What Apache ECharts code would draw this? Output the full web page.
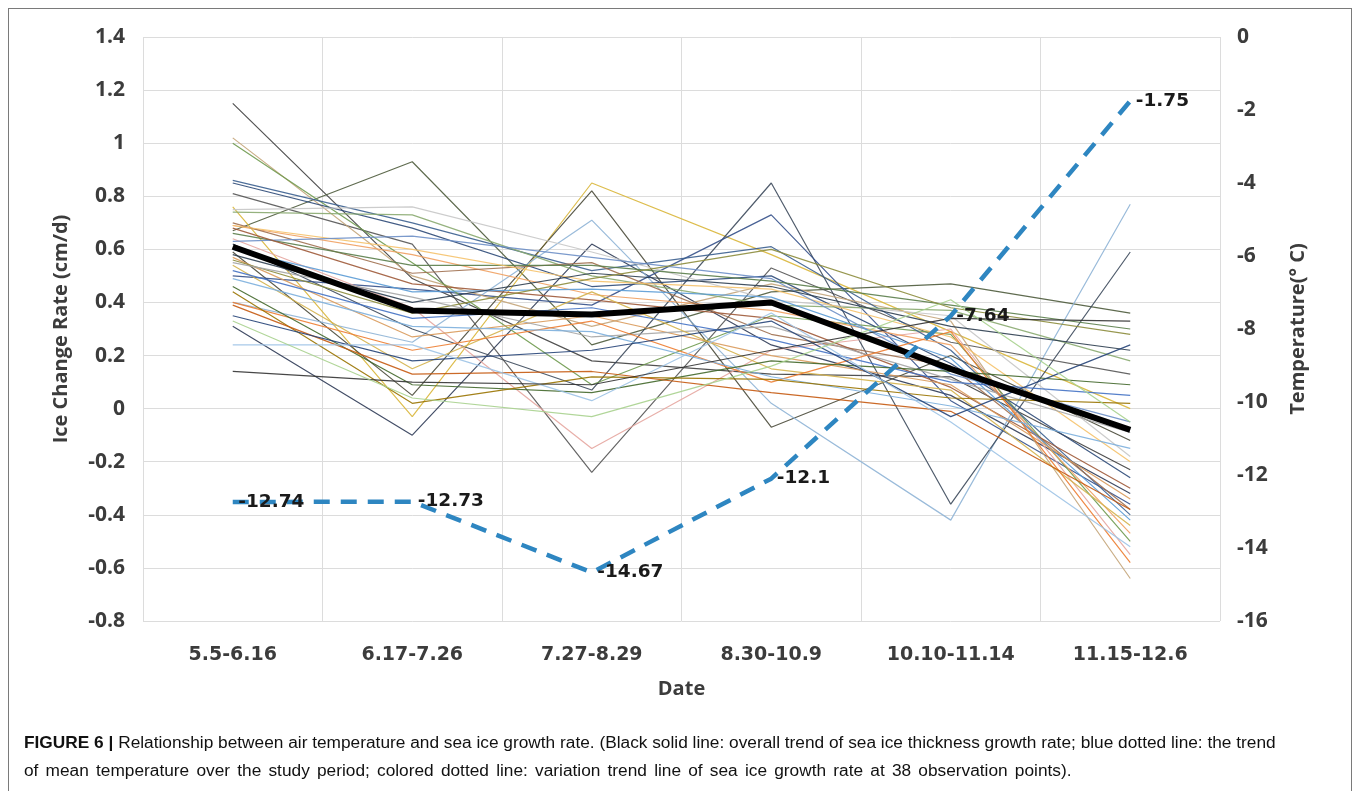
<!DOCTYPE html>
<html>
<head>
<meta charset="utf-8">
<script src="https://cdn.jsdelivr.net/npm/echarts@6/dist/echarts.min.js"></script>
<style>
  html, body { margin: 0; padding: 0; background: #ffffff; }
  #wrap { position: relative; width: 1354px; height: 791px; overflow: hidden; }
  #frame { position: absolute; left: 8px; top: 8px; width: 1342px; height: 800px; border: 1.5px solid #7a7a7a; }
  #chart { position: absolute; left: 0; top: 0; width: 1354px; height: 791px; }
  #caption { position: absolute; left: 24px; top: 728px; width: 1300px;
    font-family: "Liberation Sans", Arial, sans-serif; font-size: 17.3px; line-height: 28px;
    color: #111; white-space: nowrap; }
  #caption b { font-weight: bold; }
  #caption .last { word-spacing: 2.4px; }
</style>
</head>
<body>
<div id="wrap">
  <div id="frame"></div>
  <div id="chart"></div>
  <div id="caption">
    <div><b>FIGURE 6 |</b> Relationship between air temperature and sea ice growth rate. (Black solid line: overall trend of sea ice thickness growth rate; blue dotted line: the trend</div>
    <div class="last">of mean temperature over the study period; colored dotted line: variation trend line of sea ice growth rate at 38 observation points).</div>
  </div>
</div>
<script>
// Observation periods
const categories = ['5.5-6.16', '6.17-7.26', '7.27-8.29', '8.30-10.9', '10.10-11.14', '11.15-12.6'];

// Mean air temperature per period (°C)
const temperature = [-12.74, -12.73, -14.67, -12.1, -7.64, -1.75];

// Overall trend of sea ice growth rate (cm/d)
const overallTrend = [0.61, 0.37, 0.355, 0.40, 0.15, -0.08];

// Growth rate at the 38 observation points (cm/d)
const p01 = [1.15, 0.49, 0.18, 0.13, 0.12, -0.23];
const p02 = [0.67, 0.93, 0.24, 0.44, 0.47, 0.36];
const p03 = [0.31, -0.10, 0.62, 0.24, 0.05, -0.32];
const p04 = [0.76, -0.03, 0.85, 0.58, 0.29, 0.00];
const p05 = [0.59, 0.05, 0.82, -0.07, 0.20, -0.12];
const p06 = [0.40, 0.25, 0.71, 0.02, -0.42, 0.77];
const p07 = [0.62, 0.30, 0.07, 0.85, -0.36, 0.59];
const p08 = [0.50, 0.45, 0.39, 0.73, 0.03, -0.36];
const p09 = [0.81, 0.62, -0.24, 0.53, 0.25, 0.13];
const p10 = [0.64, 0.38, -0.15, 0.22, 0.30, -0.55];
const p11 = [1.02, 0.50, 0.31, 0.47, 0.33, -0.64];
const p12 = [1.00, 0.55, 0.09, 0.35, 0.28, -0.50];
const p13 = [0.86, 0.70, 0.52, 0.61, 0.22, -0.40];
const p14 = [0.85, 0.68, 0.46, 0.50, 0.17, -0.26];
const p15 = [0.75, 0.76, 0.59, 0.41, 0.35, -0.18];
const p16 = [0.74, 0.73, 0.50, 0.39, 0.37, 0.18];
const p17 = [0.69, 0.58, 0.43, 0.37, 0.24, -0.47];
const p18 = [0.70, 0.51, 0.55, 0.28, 0.16, -0.38];
const p19 = [0.66, 0.54, 0.54, 0.48, 0.39, 0.30];
const p20 = [0.69, 0.60, 0.48, 0.45, 0.27, -0.20];
const p21 = [0.63, 0.65, 0.57, 0.49, 0.13, -0.05];
const p22 = [0.68, 0.47, 0.41, 0.34, 0.08, -0.30];
const p23 = [0.60, 0.44, 0.45, 0.42, 0.19, -0.42];
const p24 = [0.58, 0.40, 0.51, 0.46, 0.31, 0.22];
const p25 = [0.57, 0.27, 0.35, 0.20, 0.09, -0.34];
const p26 = [0.56, 0.36, 0.49, 0.60, 0.38, 0.28];
const p27 = [0.55, 0.42, 0.27, 0.31, 0.11, -0.09];
const p28 = [0.54, 0.15, 0.44, 0.15, 0.07, -0.44];
const p29 = [0.52, 0.34, 0.38, 0.26, 0.10, 0.05];
const p30 = [0.40, 0.22, 0.33, 0.10, 0.29, -0.58];
const p31 = [0.49, 0.31, 0.29, 0.12, 0.01, -0.15];
const p32 = [0.46, 0.09, 0.06, 0.18, 0.14, 0.09];
const p33 = [0.44, 0.02, 0.12, 0.11, 0.04, 0.02];
const p34 = [0.39, 0.13, 0.14, 0.06, -0.01, -0.38];
const p35 = [0.35, 0.18, 0.22, 0.33, -0.03, 0.24];
const p36 = [0.24, 0.24, 0.03, 0.36, -0.05, -0.52];
const p37 = [0.14, 0.10, 0.09, 0.22, 0.34, 0.33];
const p38 = [0.33, 0.04, -0.03, 0.16, 0.41, -0.05];

const points = [p01, p02, p03, p04, p05, p06, p07, p08, p09, p10, p11, p12, p13, p14, p15, p16, p17, p18, p19,
                p20, p21, p22, p23, p24, p25, p26, p27, p28, p29, p30, p31, p32, p33, p34, p35, p36, p37, p38];

const pointColors = [
  '#3f3f3f', '#4e5b3c', '#2f3b56', '#d9b63a', '#4a4a3a', '#8fb4d6', '#3d4a5c', '#34508a', '#555555', '#e6a6a0',
  '#c4a57a', '#6f9a4f', '#3b5f8f', '#2e4a78', '#c6c6c6', '#8aaa70', '#f0a060', '#a07050', '#5a7d4a', '#f5c26b',
  '#6d8fc7', '#9e5a3a', '#5b9bd5', '#2d3e50', '#d99a5b', '#8c8c3c', '#a5a5a5', '#d4b24c', '#4472c4', '#ed7d31',
  '#7cafdd', '#43682b', '#997300', '#c55a11', '#264478', '#9dc3e6', '#333333', '#a9d18e'
];

const textColor = '#3c3c3c';
const font = '"Open Sans", "DejaVu Sans", sans-serif';
const wideFont = '"DejaVu Sans", sans-serif';

const series = points.map((vals, i) => ({
  name: 'P' + (i + 1),
  type: 'line',
  data: vals,
  yAxisIndex: 0,
  symbol: 'none',
  silent: true,
  lineStyle: { width: 1.2, color: pointColors[i], opacity: 0.9 },
  z: 2
}));

series.push({
  name: 'Overall trend',
  type: 'line',
  data: overallTrend,
  yAxisIndex: 0,
  symbol: 'none',
  lineStyle: { width: 6, color: '#000000' },
  z: 5
});

// Temperature: dashed line with value labels (an invisible marker carries each label)
series.push({
  name: 'Temperature',
  type: 'line',
  data: temperature,
  yAxisIndex: 1,
  symbol: 'circle',
  symbolSize: 1,
  showSymbol: true,
  itemStyle: { color: 'rgba(0,0,0,0)', borderWidth: 0 },
  lineStyle: { width: 4.5, color: '#2e86c1', type: [16, 11] },
  label: {
    show: true, position: 'right', distance: 5,
    color: '#1a1a1a', fontFamily: wideFont, fontWeight: 'bold', fontSize: 18.5
  },
  labelLayout: { hideOverlap: false },
  z: 6
});

const chart = echarts.init(document.getElementById('chart'), null, { renderer: 'canvas' });
chart.setOption({
  animation: false,
  backgroundColor: 'transparent',
  grid: { left: 143, right: 134, top: 37, bottom: 170 },
  xAxis: {
    type: 'category',
    data: categories,
    boundaryGap: true,
    name: 'Date',
    nameLocation: 'middle',
    nameGap: 58,
    nameTextStyle: { color: textColor, fontFamily: font, fontWeight: 'bold', fontSize: 20 },
    axisLine: { show: false },
    axisTick: { show: false },
    axisLabel: { color: textColor, fontFamily: wideFont, fontWeight: 'bold', fontSize: 19, margin: 25 },
    splitLine: { show: true, interval: 0, lineStyle: { color: '#dcdcdc', width: 1 } }
  },
  yAxis: [
    {
      type: 'value',
      min: -0.8, max: 1.4, interval: 0.2,
      name: 'Ice Change Rate (cm/d)',
      nameLocation: 'middle',
      nameGap: 72,
      nameTextStyle: { color: textColor, fontFamily: font, fontWeight: 'bold', fontSize: 20 },
      axisLine: { show: false },
      axisTick: { show: false },
      axisLabel: { color: textColor, fontFamily: font, fontWeight: 'bold', fontSize: 21, margin: 18 },
      splitLine: { show: true, lineStyle: { color: '#dcdcdc', width: 1 } }
    },
    {
      type: 'value',
      position: 'right',
      min: -16, max: 0, interval: 2,
      name: 'Temperature(° C)',
      nameLocation: 'middle',
      nameGap: 68,
      nameRotate: 90,
      nameTextStyle: { color: textColor, fontFamily: font, fontWeight: 'bold', fontSize: 20 },
      axisLine: { show: false },
      axisTick: { show: false },
      axisLabel: { color: textColor, fontFamily: font, fontWeight: 'bold', fontSize: 21, margin: 17 },
      splitLine: { show: false }
    }
  ],
  series: series
});
</script>
</body>
</html>
